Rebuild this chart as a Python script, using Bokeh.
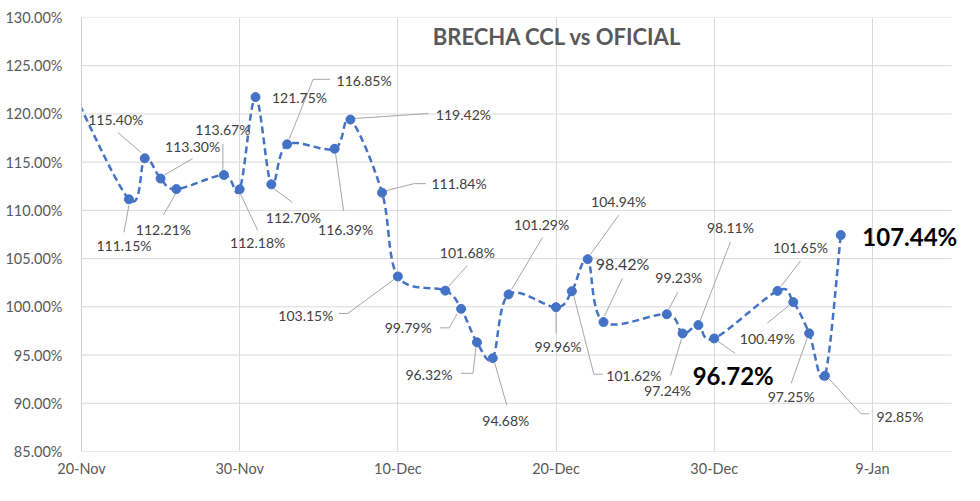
import numpy as np
import pandas as pd
from bokeh.plotting import figure
from bokeh.models import Range1d, FixedTicker, PrintfTickFormatter, ColumnDataSource, Label
from bokeh.core.properties import value
from bokeh.embed import file_html
from bokeh.resources import INLINE

# ---------------- data ----------------
dates = ["2021-11-19", "2021-11-23", "2021-11-24", "2021-11-25", "2021-11-26",
         "2021-11-29", "2021-11-30", "2021-12-01", "2021-12-02", "2021-12-03",
         "2021-12-06", "2021-12-07", "2021-12-09", "2021-12-10", "2021-12-13",
         "2021-12-14", "2021-12-15", "2021-12-16", "2021-12-17", "2021-12-20",
         "2021-12-21", "2021-12-22", "2021-12-23", "2021-12-27", "2021-12-28",
         "2021-12-29", "2021-12-30", "2022-01-03", "2022-01-04", "2022-01-05",
         "2022-01-06", "2022-01-07"]
brecha = [124.0, 111.15, 115.40, 113.30, 112.21,
          113.67, 112.18, 121.75, 112.70, 116.85,
          116.39, 119.42, 111.84, 103.15, 101.68,
          99.79, 96.32, 94.68, 101.29, 99.96,
          101.62, 104.94, 98.42, 99.23, 97.24,
          98.11, 96.72, 101.65, 100.49, 97.25,
          92.85, 107.44]
start_date = "2021-11-20"
end_date = "2022-01-14"
tick_dates = ["2021-11-20", "2021-11-30", "2021-12-10", "2021-12-20", "2021-12-30", "2022-01-09"]
tick_labels = ["20-Nov", "30-Nov", "10-Dec", "20-Dec", "30-Dec", "9-Jan"]
y_ticks = [85, 90, 95, 100, 105, 110, 115, 120, 125, 130]
title_text = "BRECHA CCL vs OFICIAL"

# ---------------- layout / style ----------------
W, H = 980, 501
B_LEFT, B_RIGHT, B_TOP, B_BOTTOM = 81, 29, 17, 50
EXTRA_RIGHT = 14          # extra frame room (px) so the big end label is not clipped
BLUE = "#4472C4"
FONT = "Lato"
GRID = "#d9d9d9"

# label placement (pixel offsets from each point, screen y downward), per labelled point
label_off = [(-5, 46), (-29, -39), (32, -32), (-13, 40), (-1, -45), (18, 53), (44, 0),
             (22, 33), (77, -64), (11, 81), (113, -5), (77, -9), (-92, 39), (22, -38),
             (-53, 19), (-48, 32), (13, 62), (33, -70), (2, 39), (62, 84), (31, -58),
             (19, -59), (12, -37), (-15, 57), (32, -98), (19, 37), (23, -43), (-26, 36),
             (-18, 63), (75, 41), (69, 1)]
leader_off = [[(0, 6), (-5, 33)], [(-27, -26), (-4, -6)], [(32, -20), (3, -3)],
              [(-1, 5), (-13, 26)], [(-1, -31), (-1, -5)], [(1, 5), (18, 41)], None,
              [(2, 4), (21, 18)], [(2, -5), (26, -65), (43, -65)], [(1, 5), (9, 62)],
              [(4, -1), (78, -6)], [(4, -2), (32, -9), (44, -9)],
              [(-4, 3), (-50, 37), (-59, 37)], [(3, -4), (22, -25)],
              [(-4, 5), (-12, 19), (-21, 19)], [(-1, 5), (-4, 31), (-16, 31)],
              [(2, 5), (14, 47)], [(3, -5), (34, -57)], [(0, 5), (0, 26)],
              [(2, 5), (22, 83), (31, 83)], [(3, -5), (31, -44)], [(1, -6), (19, -44)],
              [(2, -5), (11, -22)], [(-1, 5), (-12, 42)], [(2, -5), (32, -83)],
              [(4, 3), (21, 15)], [(3, -4), (23, -30)], [(-4, 3), (-26, 21)],
              [(-2, 5), (-18, 50)], [(4, 3), (36, 38), (44, 38)], None]
label_size = ["14px"] * 31
label_size[21] = "16px"
bold_idx = (25, 30)

# ---------------- derived ----------------
t0 = pd.Timestamp(start_date)
days = np.array([(pd.Timestamp(d) - t0).days for d in dates], dtype=float)
vals = np.array(brecha, dtype=float)
x_end = (pd.Timestamp(end_date) - t0).days
tick_days = [float((pd.Timestamp(d) - t0).days) for d in tick_dates]

fw = W - B_LEFT - B_RIGHT
fh = H - B_TOP - B_BOTTOM
day_per_px = x_end / fw
pct_per_px = (y_ticks[-1] - y_ticks[0]) / fh


def smooth(xs, ys, n=20):
    P = np.column_stack([xs, ys])
    P = np.vstack([P[0], P, P[-1]])
    out = []
    t = np.linspace(0, 1, n, endpoint=False)[:, None]
    for i in range(1, len(P) - 2):
        p0, p1, p2, p3 = P[i - 1], P[i], P[i + 1], P[i + 2]
        c1 = p1 + (p2 - p0) / 6.0
        c2 = p2 - (p3 - p1) / 6.0
        seg = (1 - t) ** 3 * p1 + 3 * (1 - t) ** 2 * t * c1 + 3 * (1 - t) * t ** 2 * c2 + t ** 3 * p2
        out.append(seg)
    out.append(P[-2][None, :])
    return np.vstack(out)


curve = smooth(days, vals)

p = figure(width=W, height=H, output_backend="svg", toolbar_location=None,
           x_range=Range1d(0, x_end + EXTRA_RIGHT * day_per_px),
           y_range=Range1d(y_ticks[0], y_ticks[-1]),
           min_border_left=B_LEFT, min_border_right=B_RIGHT - EXTRA_RIGHT,
           min_border_top=B_TOP, min_border_bottom=B_BOTTOM)
p.outline_line_color = None
p.background_fill_color = "white"
p.border_fill_color = "white"

p.xaxis.ticker = FixedTicker(ticks=tick_days)
p.xaxis.major_label_overrides = {d: lab for d, lab in zip(tick_days, tick_labels)}
p.yaxis.ticker = FixedTicker(ticks=y_ticks)
p.yaxis.formatter = PrintfTickFormatter(format="%.2f%%")
for ax in (p.xaxis[0], p.yaxis[0]):
    ax.major_tick_line_color = None
    ax.minor_tick_line_color = None
    ax.major_label_text_font = FONT
    ax.major_label_text_font_size = "14.5px"
    ax.major_label_text_color = "#595959"
p.xaxis.axis_line_color = None
p.yaxis.axis_line_color = "#d0d0d0"
p.yaxis.major_label_standoff = 13
p.xaxis.major_label_standoff = 2
p.xgrid.ticker = FixedTicker(ticks=tick_days)
p.xgrid.grid_line_color = GRID
p.ygrid.visible = False

# horizontal grid lines, limited to the date span of the axis
p.segment(x0=[0] * len(y_ticks), x1=[x_end] * len(y_ticks), y0=y_ticks, y1=y_ticks,
          line_color=[("#d0d0d0" if y == y_ticks[0] else GRID) for y in y_ticks], line_width=1)

# leader lines
lx, ly = [], []
for i, segs in enumerate(leader_off):
    if segs is None:
        continue
    px, py = days[i + 1], vals[i + 1]
    lx.append([px + dx * day_per_px for dx, dy in segs])
    ly.append([py - dy * pct_per_px for dx, dy in segs])
p.multi_line(xs=lx, ys=ly, line_color="#a6a6a6", line_width=1)

# series
p.line(curve[:, 0], curve[:, 1], line_color=BLUE, line_width=2.5, line_dash="7 4")
p.scatter(days, vals, size=9, fill_color=BLUE, line_color=BLUE, marker="circle")

# data labels
lab_x = [days[i + 1] + dx * day_per_px for i, (dx, dy) in enumerate(label_off)]
lab_y = [vals[i + 1] - dy * pct_per_px for i, (dx, dy) in enumerate(label_off)]
lab_t = ["%.2f%%" % v for v in vals[1:]]
norm = [i for i in range(len(lab_t)) if i not in bold_idx]
src = ColumnDataSource(dict(
    x=[lab_x[i] for i in norm], y=[lab_y[i] for i in norm],
    text=[lab_t[i] for i in norm], size=[label_size[i] for i in norm]))
p.text(x="x", y="y", text="text", source=src, text_font=value(FONT),
       text_font_size="size", text_color="#404040",
       text_align="center", text_baseline="middle")
for i in bold_idx:
    p.add_layout(Label(x=lab_x[i], y=lab_y[i], text=lab_t[i], text_font=FONT,
                       text_font_size="24px", text_font_style="bold", text_color="#000000",
                       text_align="center", text_baseline="middle"))

# title inside the plot area
p.add_layout(Label(x=(557 - B_LEFT) * day_per_px, y=y_ticks[-1] - (36 - B_TOP) * pct_per_px,
                   text=title_text, text_font=FONT, text_font_size="22px",
                   text_font_style="bold", text_color="#595959",
                   text_align="center", text_baseline="middle"))

open("out.html", "w").write(file_html(p, INLINE))
